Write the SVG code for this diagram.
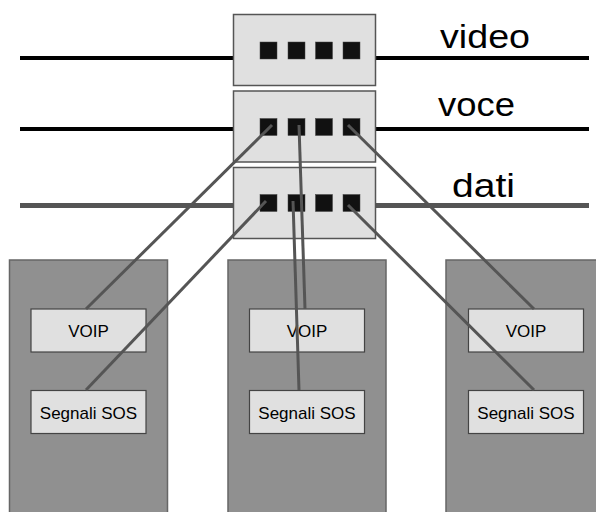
<svg xmlns="http://www.w3.org/2000/svg" width="596" height="512" viewBox="0 0 596 512">
<style>
.bus{stroke:#000;stroke-width:4;fill:none}
.busd{stroke:#555;stroke-width:5;fill:none}
.sw{fill:#e0e0e0;stroke:#555;stroke-width:1.5}
.port{fill:#111;stroke:#444;stroke-width:0.5}
.host{fill:#909090;stroke:#666;stroke-width:1.5}
.app{fill:#e0e0e0;stroke:#444;stroke-width:1.2}
.lbl{font-family:"Liberation Sans",Arial,sans-serif;font-size:33px;fill:#000}
.t{font-family:"Liberation Sans",Arial,sans-serif;font-size:17px;fill:#000;text-anchor:middle}
.conn{stroke:#555;stroke-width:3;fill:none}
</style>
<rect width="596" height="512" fill="#fff"/>
<g id="buses">
<line class="bus" x1="20" y1="58" x2="589" y2="58"/>
<line class="bus" x1="20" y1="129" x2="589" y2="129"/>
<line class="busd" x1="20" y1="205.5" x2="589" y2="205.5"/>
<text class="lbl" x="440" y="48" textLength="90" lengthAdjust="spacingAndGlyphs">video</text>
<text class="lbl" x="438" y="116" textLength="77" lengthAdjust="spacingAndGlyphs">voce</text>
<text class="lbl" x="452" y="197" textLength="63" lengthAdjust="spacingAndGlyphs">dati</text>
</g>
<g id="switch-video">
<rect class="sw" x="233.5" y="14.5" width="142" height="71"/>
<rect class="port" x="260" y="42" width="17" height="17"/>
<rect class="port" x="288" y="42" width="17" height="17"/>
<rect class="port" x="315.5" y="42" width="17" height="17"/>
<rect class="port" x="343" y="42" width="17" height="17"/>
</g>
<g id="switch-voce">
<rect class="sw" x="233.5" y="91" width="142" height="71"/>
<rect class="port" x="260" y="118.5" width="17" height="17"/>
<rect class="port" x="288" y="118.5" width="17" height="17"/>
<rect class="port" x="315.5" y="118.5" width="17" height="17"/>
<rect class="port" x="343" y="118.5" width="17" height="17"/>
</g>
<g id="switch-dati">
<rect class="sw" x="233.5" y="167.5" width="142" height="71"/>
<rect class="port" x="260" y="194.5" width="17" height="17"/>
<rect class="port" x="288" y="194.5" width="17" height="17"/>
<rect class="port" x="315.5" y="194.5" width="17" height="17"/>
<rect class="port" x="343" y="194.5" width="17" height="17"/>
</g>
<g id="host1">
<rect class="host" x="9.5" y="260" width="158" height="260"/>
<rect class="app" x="31" y="309" width="115" height="43"/>
<text class="t" x="88.5" y="337">VOIP</text>
<rect class="app" x="31" y="390.5" width="115" height="43"/>
<text class="t" x="88.5" y="419">Segnali SOS</text>
</g>
<g id="host2">
<rect class="host" x="228" y="260" width="158" height="260"/>
<rect class="app" x="249.5" y="309" width="115" height="43"/>
<text class="t" x="307" y="337">VOIP</text>
<rect class="app" x="249.5" y="390.5" width="115" height="43"/>
<text class="t" x="307" y="419">Segnali SOS</text>
</g>
<g id="host3">
<rect class="host" x="446" y="260" width="160" height="260"/>
<rect class="app" x="468.5" y="309" width="115" height="43"/>
<text class="t" x="526" y="337">VOIP</text>
<rect class="app" x="468.5" y="390.5" width="115" height="43"/>
<text class="t" x="526" y="419">Segnali SOS</text>
</g>
<g id="connectors">
<line class="conn" x1="272" y1="125" x2="86" y2="309"/>
<line class="conn" x1="266" y1="201" x2="86" y2="390"/>
<line class="conn" x1="299" y1="125" x2="305" y2="309"/>
<line class="conn" x1="293" y1="201" x2="299" y2="390"/>
<line class="conn" x1="348" y1="125" x2="534" y2="309"/>
<line class="conn" x1="348" y1="205" x2="534" y2="390"/>
</g>
</svg>
